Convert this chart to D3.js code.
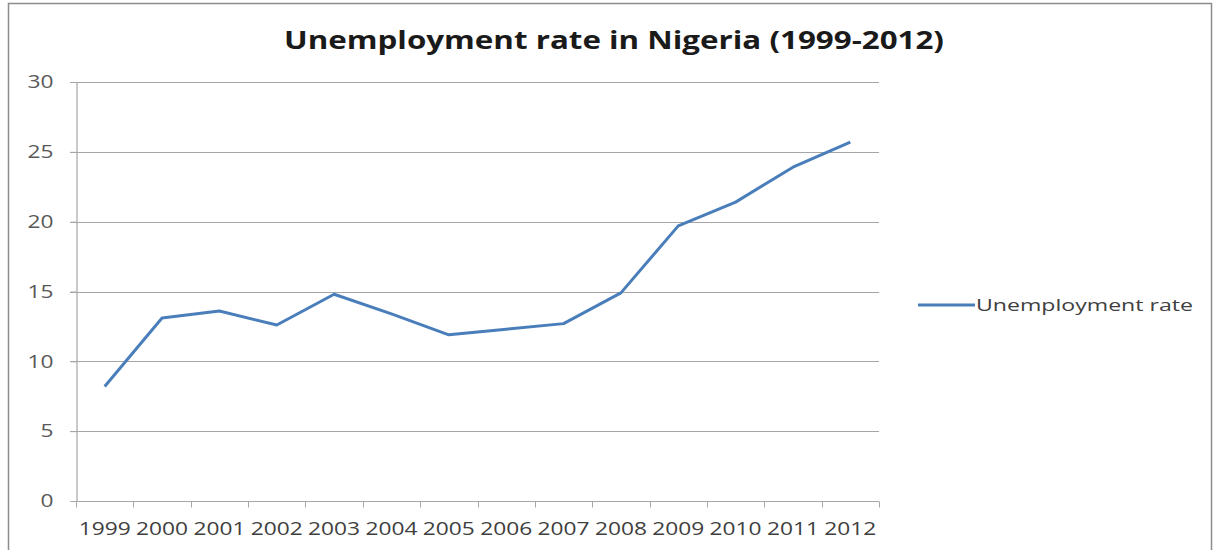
<!DOCTYPE html>
<html>
<head>
<meta charset="utf-8">
<script src="https://cdn.jsdelivr.net/npm/d3@7"></script>
<style>
  html, body { margin: 0; padding: 0; background: #fff; }
  svg { display: block; }
</style>
</head>
<body>
<div id="chart"></div>
<script>
// Unemployment rate in Nigeria, 1999–2012 (%)
const years = ["1999", "2000", "2001", "2002", "2003", "2004", "2005",
               "2006", "2007", "2008", "2009", "2010", "2011", "2012"];
const unemploymentRate = [8.2, 13.1, 13.6, 12.6, 14.8, 13.4, 11.9,
                          12.3, 12.7, 14.9, 19.7, 21.4, 23.9, 25.7];
const yTicks = [0, 5, 10, 15, 20, 25, 30];
const seriesName = "Unemployment rate";
const chartTitle = "Unemployment rate in Nigeria (1999-2012)";

const W = 1215, H = 550;
const plot = { left: 76, right: 879, top: 82, bottom: 501 };
const lineColor = "#4a7ebb";
const font = "'Open Sans', 'DejaVu Sans', sans-serif";

const svg = d3.select("#chart").append("svg")
  .attr("width", W).attr("height", H);

// outer chart frame
svg.append("rect")
  .attr("x", 8.5).attr("y", 3.5)
  .attr("width", 1203).attr("height", 560)
  .attr("fill", "#fff").attr("stroke", "#8c8c8c").attr("stroke-width", 1.5);

const x = d3.scaleBand().domain(years).range([plot.left, plot.right]);
const y = d3.scaleLinear().domain([0, 30]).range([plot.bottom, plot.top]);

// horizontal gridlines
svg.append("g")
  .selectAll("line")
  .data(yTicks.filter(d => d > 0))
  .join("line")
  .attr("x1", plot.left - 6).attr("x2", plot.right)
  .attr("y1", d => Math.round(y(d)) + 0.5).attr("y2", d => Math.round(y(d)) + 0.5)
  .attr("stroke", "#a6a6a6").attr("stroke-width", 1.2);

// y axis
const yAxis = svg.append("g")
  .attr("transform", `translate(${plot.left + 0.5},0)`)
  .call(d3.axisLeft(y).tickValues(yTicks).tickSize(6).tickPadding(17));
yAxis.select(".domain").attr("stroke", "#a6a6a6").attr("stroke-width", 1.2);
yAxis.selectAll(".tick line").attr("stroke", "#a6a6a6");
yAxis.selectAll(".tick text")
  .attr("fill", "#595959").attr("font-family", font).attr("font-size", 18)
  .attr("textLength", d => d >= 10 ? 26 : 13).attr("lengthAdjust", "spacingAndGlyphs");

// x axis: ticks at category boundaries, labels centered in bands
const xAxisG = svg.append("g")
  .attr("transform", `translate(0,${Math.round(plot.bottom) + 0.5})`);
xAxisG.append("line")
  .attr("x1", plot.left).attr("x2", plot.right)
  .attr("stroke", "#a6a6a6").attr("stroke-width", 1.2);
const boundaries = years.map(d => x(d)).concat([x(years[years.length - 1]) + x.bandwidth()]);
xAxisG.selectAll(".bt")
  .data(boundaries)
  .join("line")
  .attr("class", "bt")
  .attr("x1", d => Math.round(d) + 0.5).attr("x2", d => Math.round(d) + 0.5)
  .attr("y1", 0).attr("y2", 6)
  .attr("stroke", "#a6a6a6");
const xAxis = d3.axisBottom(x).tickSize(0).tickPadding(21);
const xl = svg.append("g")
  .attr("transform", `translate(0,${plot.bottom})`)
  .call(xAxis);
xl.select(".domain").remove();
xl.selectAll(".tick text")
  .attr("fill", "#404040").attr("font-family", font).attr("font-size", 18)
  .attr("textLength", 52).attr("lengthAdjust", "spacingAndGlyphs");

// data line
const line = d3.line()
  .x((d, i) => x(years[i]) + x.bandwidth() / 2)
  .y(d => y(d));
svg.append("path")
  .datum(unemploymentRate)
  .attr("d", line)
  .attr("fill", "none")
  .attr("stroke", lineColor)
  .attr("stroke-width", 3)
  .attr("stroke-linejoin", "round");

// title
svg.append("text")
  .attr("x", 614).attr("y", 49)
  .attr("text-anchor", "middle")
  .attr("font-family", font).attr("font-weight", "bold")
  .attr("font-size", 25).attr("fill", "#1a1a1a")
  .attr("textLength", 660).attr("lengthAdjust", "spacingAndGlyphs")
  .text(chartTitle);

// legend
const legend = svg.append("g").attr("transform", "translate(918,305)");
legend.append("line")
  .attr("x1", 0).attr("x2", 57).attr("y1", 0).attr("y2", 0)
  .attr("stroke", lineColor).attr("stroke-width", 3);
legend.append("text")
  .attr("x", 58).attr("y", 6)
  .attr("font-family", font).attr("font-size", 17).attr("fill", "#404040")
  .attr("textLength", 217).attr("lengthAdjust", "spacingAndGlyphs")
  .text(seriesName);
</script>
</body>
</html>
